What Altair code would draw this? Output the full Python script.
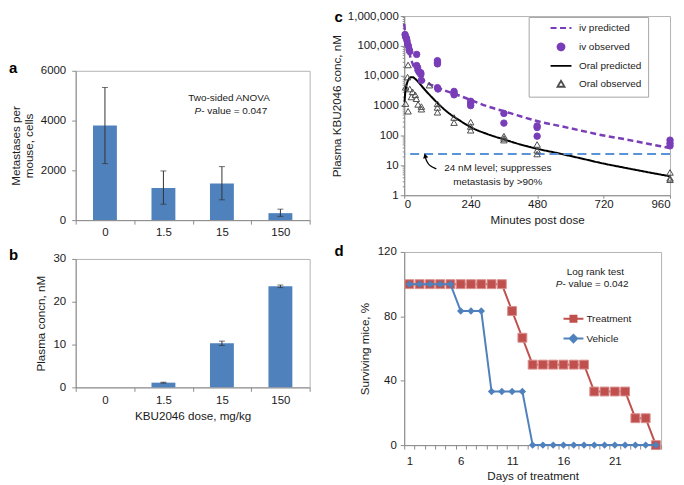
import altair as alt
import pandas as pd

FONT = "Liberation Sans"
AX = "#8c8c8c"
TXT = "#1a1a1a"
BAR = "#4f81bd"
PURPLE = "#7a3db8"
RED = "#c0504d"
BLUE = "#4f81bd"
REFC = "#5b94d6"

# ---------------- data ----------------
panel_letters = ["a", "b", "c", "d"]

doses = ["0", "1.5", "15", "150"]
metastases = [3800, 1290, 1470, 280]
metastases_lo = [2270, 640, 815, 150]
metastases_hi = [5330, 1975, 2150, 440]
anova_text = ["Two-sided ANOVA", "P", "- value = 0.047"]

plasma = [0, 1.1, 10.3, 23.6]
plasma_err_doses = ["1.5", "15", "150"]
plasma_lo = [1.0, 9.8, 23.3]
plasma_hi = [1.2, 10.8, 23.9]

c_series = ["iv predicted", "iv observed", "Oral predicted", "Oral observed"]
iv_pred_t = [0, 3, 7, 12, 20, 30, 45, 60, 90, 120, 150, 180, 240, 300, 360, 420, 480, 560, 640, 720, 800, 880, 960]
iv_pred_c = [550000, 300000, 160000, 100000, 50000, 26000, 12800, 8500, 5300, 4100, 3100, 2500, 1550, 950, 650, 440, 305, 210, 145, 100, 74, 53, 38]
oral_pred_t = [1, 3, 6, 10, 15, 22, 30, 40, 50, 60, 80, 100, 130, 160, 200, 240, 300, 360, 420, 480, 560, 640, 720, 800, 880, 960]
oral_pred_c = [1300, 2300, 3800, 5600, 7300, 8900, 9000, 7800, 6300, 4900, 3000, 1900, 1000, 570, 320, 190, 112, 74, 50, 36, 25, 17, 11.5, 8.2, 5.9, 4.3]
iv_obs_t = [3, 5, 8, 10, 12, 15, 18, 20, 45, 45, 48, 55, 60, 60, 62, 120, 120, 120, 120, 122,
            180, 180, 180, 240, 240, 240, 360, 360, 480, 480, 480, 960, 960, 960]
iv_obs_c = [240000, 200000, 180000, 150000, 115000, 100000, 75000, 65000, 52000, 22000, 19000, 13500,
            12500, 11000, 7000, 32000, 28000, 25000, 4000, 3600, 3000, 2600, 2300, 1400, 1150, 1000,
            550, 260, 210, 185, 95, 70, 55, 45]
oral_obs_t = [5, 5, 12, 14, 14, 20, 26, 30, 40, 44, 50, 62, 62, 91, 120, 120, 120, 180, 180,
              240, 240, 240, 360, 360, 360, 480, 480, 480, 960, 960, 960]
oral_obs_c = [4100, 1170, 9000, 23000, 650, 3600, 1950, 2900, 2300, 1700, 1100, 930, 760, 4850,
              1150, 870, 600, 400, 270, 280, 200, 150, 95, 80, 70, 50, 32, 24, 5.8, 3.7, 3.3]
threshold_nM = [24]
c_note = ["24 nM level; suppresses", "metastasis by >90%"]
c_note_t = [338, 338]
c_note_c = [7.9, 2.8]
arrow_t = [116, 92, 81, 76.5]
arrow_c = [7.6, 9.4, 13.5, 18.5]
arrow_head_t = [75.5]
arrow_head_c = [21]
c_xticks = [0, 120, 240, 360, 480, 600, 720, 840, 960]

days = [1, 2, 3, 4, 5, 6, 7, 8, 9, 10, 11, 12, 13, 14, 15, 16, 17, 18, 19, 20, 21, 22, 23, 24, 25]
treatment = [100, 100, 100, 100, 100, 100, 100, 100, 100, 100, 83.3, 66.7, 50, 50, 50, 50, 50, 50,
             33.3, 33.3, 33.3, 33.3, 16.7, 16.7, 0]
vehicle = [100, 100, 100, 100, 100, 83.3, 83.3, 83.3, 33.3, 33.3, 33.3, 33.3, 0, 0, 0, 0, 0, 0,
           0, 0, 0, 0, 0, 0, 0]
logrank_text = ["Log rank test", "P", "- value = 0.042"]

# ---------------- helpers ----------------
W_L, H_A, H_B = 235, 150, 129
W_C, H_C = 267, 180
W_D, H_D = 258, 194


def ax(**kw):
    d = dict(domainColor=AX, tickColor=AX, labelFont=FONT, titleFont=FONT,
             labelFontSize=11.5, titleFontSize=11.7, labelColor=TXT, titleColor=TXT,
             titleFontWeight="normal", grid=False, tickSize=4, domainWidth=1, tickWidth=1,
             labelOverlap=False)
    d.update(kw)
    return alt.Axis(**d)


def letter(ch, dx, dy, baseline="middle"):
    return alt.Chart(pd.DataFrame({"lab": [ch]})).mark_text(
        font=FONT, fontSize=15, fontWeight="bold", align="left", baseline=baseline, color="#000"
    ).encode(text="lab:N", x=alt.value(dx), y=alt.value(dy))


def note(txt, x, y, align="center", italic=False):
    kw = dict(font=FONT, fontSize=10, color=TXT, align=align, baseline="middle")
    if italic:
        kw["fontStyle"] = "italic"
    return alt.Chart(pd.DataFrame({"txt": [txt]})).mark_text(**kw).encode(
        text="txt:N", x=alt.value(x), y=alt.value(y))


band = alt.Scale(type="band", paddingInner=0, paddingOuter=0)

# ---------------- panel a ----------------
df_a = pd.DataFrame({"dose": doses, "v": metastases, "lo": metastases_lo, "hi": metastases_hi})
xa = alt.X("dose:N", sort=doses, title=None, scale=band,
           axis=ax(labelAngle=0, tickBand="extent", labelPadding=2))
ya = alt.Y("v:Q", scale=alt.Scale(domain=[0, 6000], nice=False),
           axis=ax(values=[0, 1000, 2000, 3000, 4000, 5000, 6000], format="d",
                   title=["Metastases per", "mouse, cells"], labelPadding=6,
                   titlePadding=6, titleLineHeight=12.5))
bars_a = alt.Chart(df_a).mark_bar(size=24, color=BAR).encode(x=xa, y=ya)
err_a = alt.Chart(df_a).mark_rule(color="#333", strokeWidth=1).encode(
    x=alt.X("dose:N", sort=doses), y="lo:Q", y2="hi:Q")
lo_a = alt.Chart(df_a).mark_tick(color="#333", thickness=1, size=6).encode(
    x=alt.X("dose:N", sort=doses), y="lo:Q")
hi_a = alt.Chart(df_a).mark_tick(color="#333", thickness=1, size=6).encode(
    x=alt.X("dose:N", sort=doses), y="hi:Q")
panel_a = alt.layer(
    bars_a, err_a, lo_a, hi_a,
    note(anova_text[0], 154, 27),
    note(anova_text[1], 126, 40, align="right", italic=True),
    note(anova_text[2], 126, 40, align="left"),
    letter(panel_letters[0], -67, -3),
).properties(width=W_L, height=H_A)

# ---------------- panel b ----------------
df_b = pd.DataFrame({"dose": doses, "v": plasma})
df_be = pd.DataFrame({"dose": plasma_err_doses, "lo": plasma_lo, "hi": plasma_hi})
xb = alt.X("dose:N", sort=doses, title="KBU2046 dose, mg/kg", scale=band,
           axis=ax(labelAngle=0, tickBand="extent", labelPadding=3, titlePadding=4.5))
yb = alt.Y("v:Q", scale=alt.Scale(domain=[0, 30], nice=False),
           axis=ax(values=[0, 5, 10, 15, 20, 25, 30], title="Plasma concn, nM",
                   labelPadding=6, titlePadding=7))
bars_b = alt.Chart(df_b).mark_bar(size=24, color=BAR).encode(x=xb, y=yb)
err_b = alt.Chart(df_be).mark_rule(color="#333", strokeWidth=1).encode(
    x=alt.X("dose:N", sort=doses), y="lo:Q", y2="hi:Q")
lo_b = alt.Chart(df_be).mark_tick(color="#333", thickness=1, size=6).encode(
    x=alt.X("dose:N", sort=doses), y="lo:Q")
hi_b = alt.Chart(df_be).mark_tick(color="#333", thickness=1, size=6).encode(
    x=alt.X("dose:N", sort=doses), y="hi:Q")
panel_b = alt.layer(bars_b, err_b, lo_b, hi_b, letter(panel_letters[1], -67, -4)).properties(
    width=W_L, height=H_B)

# ---------------- panel c ----------------
minor = [m * 10 ** e for e in range(6) for m in range(1, 10)] + [1000000]
xc = alt.X("t:Q", scale=alt.Scale(domain=[0, 960], nice=False, zero=False),
           axis=ax(values=c_xticks, title="Minutes post dose", tickSize=3, labelPadding=0,
                   titlePadding=4.5))
yc = alt.Y("c:Q", scale=alt.Scale(type="log", domain=[1, 1000000], nice=False),
           axis=ax(values=minor, title="Plasma KBU2046 conc, nM",
                   labelExpr="indexof([1, 10, 100, 1000], datum.value) >= 0 ? format(datum.value, 'd') : "
                             "(indexof([10000, 100000, 1000000], datum.value) >= 0 ? format(datum.value, ',') : '')",
                   tickSize={"condition": {"test": "indexof([1, 10, 100, 1000, 10000, 100000, 1000000], datum.value) >= 0",
                                           "value": 4}, "value": 2},
                   labelPadding=2, titlePadding=5))

leg_c = alt.Legend(title=None, orient="none", legendX=125, legendY=1, padding=6,
                   strokeColor="#a6a6a6", fillColor="white", symbolSize=49, symbolStrokeWidth=1.8,
                   symbolOffset=21.5, labelOffset=13, labelFont=FONT, labelFontSize=10,
                   labelColor=TXT, rowPadding=6,
                   labelExpr="datum.label + '                '")
stroke_c = alt.Stroke("series:N", scale=alt.Scale(domain=c_series, range=[PURPLE, PURPLE, "#000000", "#4d4d4d"]),
                      legend=leg_c)
dash_c = alt.StrokeDash("series:N", scale=alt.Scale(domain=c_series, range=[[6, 3.5], [1, 0], [1, 0], [1, 0]]),
                        legend=leg_c)
fill_c = alt.Fill("series:N", scale=alt.Scale(domain=c_series,
                                              range=["transparent", PURPLE, "transparent", "transparent"]),
                  legend=leg_c)
shape_c = alt.Shape("series:N", scale=alt.Scale(domain=c_series,
                                                range=["M-3,0H3", "circle", "M-3,0H3", "triangle-up"]),
                    legend=leg_c)

df_ivp = pd.DataFrame({"t": iv_pred_t, "c": iv_pred_c, "series": c_series[0]})
df_orp = pd.DataFrame({"t": oral_pred_t, "c": oral_pred_c, "series": c_series[2]})
df_obs = pd.concat([
    pd.DataFrame({"t": iv_obs_t, "c": iv_obs_c, "series": c_series[1]}),
    pd.DataFrame({"t": oral_obs_t, "c": oral_obs_c, "series": c_series[3]}),
], ignore_index=True)

line_iv = alt.Chart(df_ivp).mark_line(strokeWidth=2.5, interpolate="monotone").encode(
    x=xc, y=yc, stroke=stroke_c, strokeDash=dash_c)
line_or = alt.Chart(df_orp).mark_line(strokeWidth=2, interpolate="monotone").encode(
    x="t:Q", y="c:Q", stroke=stroke_c, strokeDash=dash_c)
rule_c = alt.Chart(pd.DataFrame({"c": threshold_nM})).mark_rule(
    color=REFC, strokeDash=[9, 5], strokeWidth=1.8).encode(y="c:Q")
pts_c = alt.Chart(df_obs).mark_point(size=42, strokeWidth=1, opacity=1).encode(
    x="t:Q", y="c:Q", stroke=stroke_c, fill=fill_c, shape=shape_c)
note_c = alt.Chart(pd.DataFrame({"t": c_note_t, "c": c_note_c, "txt": c_note})).mark_text(
    font=FONT, fontSize=10, color=TXT, align="center", baseline="middle").encode(
    x="t:Q", y="c:Q", text="txt:N")
arrow = alt.Chart(pd.DataFrame({"t": arrow_t, "c": arrow_c, "k": [0, 1, 2, 3]})).mark_line(
    color="#000", strokeWidth=1.3, interpolate="basis").encode(x="t:Q", y="c:Q", order="k:O")
head = alt.Chart(pd.DataFrame({"t": arrow_head_t, "c": arrow_head_c})).mark_point(
    shape="triangle-up", filled=True, color="#000", size=28, angle=345, opacity=1).encode(x="t:Q", y="c:Q")

panel_c = alt.layer(
    line_iv, line_or, rule_c, pts_c, note_c, arrow, head,
    letter(panel_letters[2], -70, -6, baseline="top"),
).properties(width=W_C, height=H_C)

# ---------------- panel d ----------------
df_t = pd.DataFrame({"day": days, "pct": treatment, "series": "Treatment"})
df_v = pd.DataFrame({"day": days, "pct": vehicle, "series": "Vehicle"})
xd = alt.X("day:O", title="Days of treatment", scale=band,
           axis=ax(labelAngle=0, tickBand="extent", labelPadding=6, titlePadding=4.5,
                   labelExpr="(datum.value - 1) % 5 == 0 ? datum.label : ''"))
yd = alt.Y("pct:Q", scale=alt.Scale(domain=[0, 120], nice=False),
           axis=ax(values=[0, 20, 40, 60, 80, 100, 120], title="Surviving mice, %",
                   labelPadding=4, titlePadding=7))
leg_t = alt.Legend(title=None, orient="none", legendX=164, legendY=61, padding=0,
                   symbolType="M-2,0H2M-0.6,-0.6H0.6V0.6H-0.6Z", symbolSize=100,
                   symbolStrokeWidth=2, symbolFillColor=RED, labelOffset=7,
                   labelFont=FONT, labelFontSize=10, labelColor=TXT)
leg_v = alt.Legend(title=None, orient="none", legendX=164, legendY=81, padding=0,
                   symbolType="M-2,0H2M0,-0.75L0.75,0L0,0.75L-0.75,0Z", symbolSize=100,
                   symbolStrokeWidth=2, symbolFillColor=BLUE, labelOffset=7,
                   labelFont=FONT, labelFontSize=10, labelColor=TXT)
t_line = alt.Chart(df_t).mark_line(strokeWidth=2).encode(
    x=xd, y=yd, color=alt.Color("series:N", scale=alt.Scale(domain=["Treatment"], range=[RED]), legend=leg_t))
t_pts = alt.Chart(df_t).mark_point(shape="square", filled=True, size=80, color=RED, opacity=1,
                                   stroke="#d98f8d", strokeWidth=1).encode(x="day:O", y="pct:Q")
v_line = alt.Chart(df_v).mark_line(strokeWidth=2).encode(
    x="day:O", y="pct:Q",
    stroke=alt.Stroke("series:N", scale=alt.Scale(domain=["Vehicle"], range=[BLUE]), legend=leg_v))
v_pts = alt.Chart(df_v).mark_point(shape="diamond", filled=True, size=55, color=BLUE, opacity=1).encode(
    x="day:O", y="pct:Q")
panel_d = alt.layer(
    t_line, t_pts, v_line, v_pts,
    note(logrank_text[0], 192, 20),
    note(logrank_text[1], 159, 32, align="right", italic=True),
    note(logrank_text[2], 159, 32, align="left"),
    letter(panel_letters[3], -70, -1),
).properties(width=W_D, height=H_D)

# ---------------- layout ----------------
spacer = alt.Chart(pd.DataFrame({"s": [""]})).mark_text().encode(
    text="s:N", x=alt.value(0), y=alt.value(0)).properties(
    width=W_L, height=16, view=alt.ViewBackground(stroke="transparent"))

indep = dict(color="independent", stroke="independent", fill="independent",
             shape="independent", strokeDash="independent")
left = alt.vconcat(spacer, panel_a, panel_b, spacing=39, bounds="flush")
right = alt.vconcat(panel_c, panel_d, spacing=57, bounds="flush").resolve_scale(**indep).resolve_legend(**indep)
chart = alt.hconcat(left, right, spacing=20).resolve_scale(**indep).resolve_legend(**indep).properties(
    padding=0).configure_view(stroke="#b3b3b3", strokeWidth=1)

chart.save("out.html", embed_options={"renderer": "svg", "actions": False})
